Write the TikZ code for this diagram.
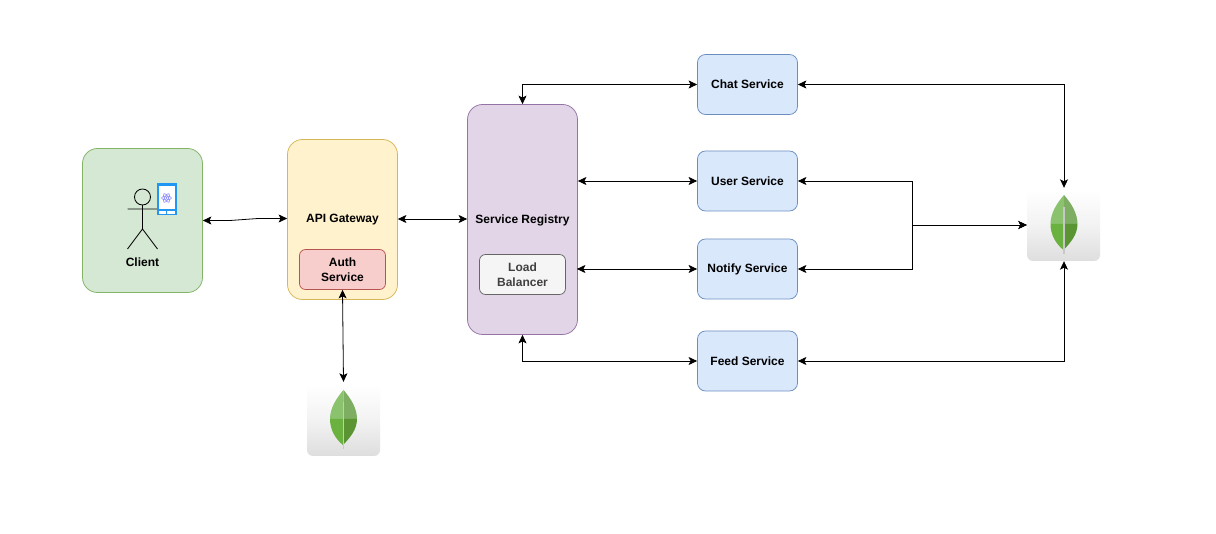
\documentclass[tikz,border=0pt]{standalone}
\usepackage{fontspec}
\setmainfont{Liberation Sans}
\usetikzlibrary{arrows.meta,calc}
\definecolor{cgreenf}{HTML}{D5E8D4}\definecolor{cgreend}{HTML}{82B366}
\definecolor{cyelf}{HTML}{FFF2CC}\definecolor{cyeld}{HTML}{D6B656}
\definecolor{credf}{HTML}{F8CECC}\definecolor{credd}{HTML}{B85450}
\definecolor{cpurf}{HTML}{E1D5E7}\definecolor{cpurd}{HTML}{9673A6}
\definecolor{cbluef}{HTML}{DAE8FC}\definecolor{cblued}{HTML}{6C8EBF}
\definecolor{cgrayf}{HTML}{F5F5F5}\definecolor{cgrayd}{HTML}{666666}
\definecolor{phone}{HTML}{2196F3}
\tikzset{
  x=1pt,y=-1pt,
  box/.style={draw,rounded corners=#1,line width=0.75pt,inner sep=0pt,align=center,font=\fontsize{12}{15}\selectfont\bfseries,text=black},
  box/.default=8pt,
  label text/.style={font=\fontsize{12}{15}\selectfont\bfseries,text=black},
  pxsize/.style n args={2}{minimum width=#1pt,minimum height=#2pt},
  svc/.style={box=8pt,fill=cbluef,draw=cblued,pxsize={100}{60}},
  link/.style={line width=0.8pt,black,{Stealth[length=8.5pt,width=8pt,inset=2pt]}-{Stealth[length=8.5pt,width=8pt,inset=2pt]}},
  mongo/.style={rounded corners=6pt,minimum width=73pt,minimum height=71pt,inner sep=0pt,top color=white,bottom color=black!13,middle color=black!5},
}
\definecolor{leafTL}{HTML}{8BC26E}\definecolor{leafTR}{HTML}{7DAE62}
\definecolor{leafBL}{HTML}{6BB13F}\definecolor{leafBR}{HTML}{5A9433}
\newcommand{\leafat}[1]{%
  \begin{scope}[shift={(#1)}]
    \fill[leafTL] (0,-30) .. controls (-7,-22) and (-13.5,-12) .. (-13.5,-1) -- (0,-1) -- cycle;
    \fill[leafTR] (0,-30) .. controls (7,-22) and (13.5,-12) .. (13.5,-1) -- (0,-1) -- cycle;
    \fill[leafBL] (-13.5,-1) .. controls (-13.5,10) and (-8,19) .. (-0.5,25) -- (0,-1) -- cycle;
    \fill[leafBR] (13.5,-1) .. controls (13.5,10) and (6,18) .. (0.5,24) -- (0,-1) -- cycle;
    \fill[black!22] (-0.6,-18) rectangle (0.6,29);
  \end{scope}}
\begin{document}
\begin{tikzpicture}
\useasboundingbox (0,0) rectangle (1216,534);
\fill[white] (0,0) rectangle (1216,534);
% boxes
\node[box=15pt,fill=cgreenf,draw=cgreend,pxsize={120}{144}] (client) at (142.5,220.5) {};
\node[box=15pt,fill=cyelf,draw=cyeld,pxsize={110}{160}] (gw) at (342.5,219.5) {};
\node[label text] (gwt) at (342.5,220) {API Gateway};
\node[box=6pt,fill=credf,draw=credd,pxsize={86}{40}] (auth) at (342.5,269.5) {Auth\\Service};
\node[box=15pt,fill=cpurf,draw=cpurd,pxsize={110}{230}] (reg) at (522.5,219.5) {};
\node[label text] (regt) at (522.5,220) {Service Registry};
\node[box=6pt,fill=cgrayf,draw=cgrayd,pxsize={86}{40},text=black!75] (lb) at (522.5,274.5) {Load\\Balancer};
\node[svc] (chat) at (747.5,84.5) {Chat Service};
\node[svc] (user) at (747.5,181) {User Service};
\node[svc] (notify) at (747.5,269) {Notify Service};
\node[svc] (feed) at (747.5,361) {Feed Service};
% mongo icons
\node[mongo] (m1) at (343.5,420.5) {};
\node[mongo] (m2) at (1063.5,225.5) {};
\leafat{343.5,420}
\leafat{1064,225}
% actor
\draw[line width=0.85pt] (142.5,197) circle (8);
\coordinate (neck) at (142.5,205);
\coordinate (hip) at (142.5,229);
\draw[line width=0.85pt] (neck) -- (hip) -- (127.5,249) (hip) -- (157.5,249) (127.5,209) -- (157.5,209);
% phone
\fill[phone] (156.5,183.5) rectangle (176.5,215.5);
\fill[white] (158.5,186.5) rectangle (174.5,209.5);
\fill[white] (158.5,211) rectangle (174.5,214);
\fill[phone] (166,211) rectangle (167,214);
\begin{scope}[shift={(166.5,198)},draw=blue!45!white,line width=0.6pt]
  \draw (0,0) ellipse (5 and 2);
  \draw[rotate=60] (0,0) ellipse (5 and 2);
  \draw[rotate=120] (0,0) ellipse (5 and 2);
  \fill[blue!45!white] (0,0) circle (1);
\end{scope}
\node[label text] (clientt) at (142.5,262.5) {Client};
% connectors
\coordinate (k1) at (230,220.5);
\coordinate (k2) at (258,218.5);
\draw[link] (client.east |- 0,220.5) -- (k1) -- (k2) -- (gw.west |- 0,218.5);
\draw[link] (gw.east |- 0,219) -- (reg.west |- 0,219);
\coordinate (m1top) at ($(m1.north)+(0,-3)$);
\draw[link] (auth.south) -- (m1top);
\draw[link] (reg.north) |- (chat.west);
\draw[link] (reg.east |- user.west) -- (user.west);
\draw[link] ($(reg.east |- notify.west)+(-1,0)$) -- (notify.west);
\draw[link] (reg.south) |- (feed.west);
\coordinate (m2top) at ($(m2.north)+(0.5,-2)$);
\coordinate (m2bot) at ($(m2.south)+(0.5,0)$);
\draw[link] (chat.east) -| (m2top);
\draw[link] (feed.east) -| (m2bot);
\coordinate (j) at (912.5,225);
\draw[link] (user.east) -| (j) -- (m2.west |- j);
\draw[link] (notify.east) -| (j) -- (m2.west |- j);
\end{tikzpicture}
\end{document}
